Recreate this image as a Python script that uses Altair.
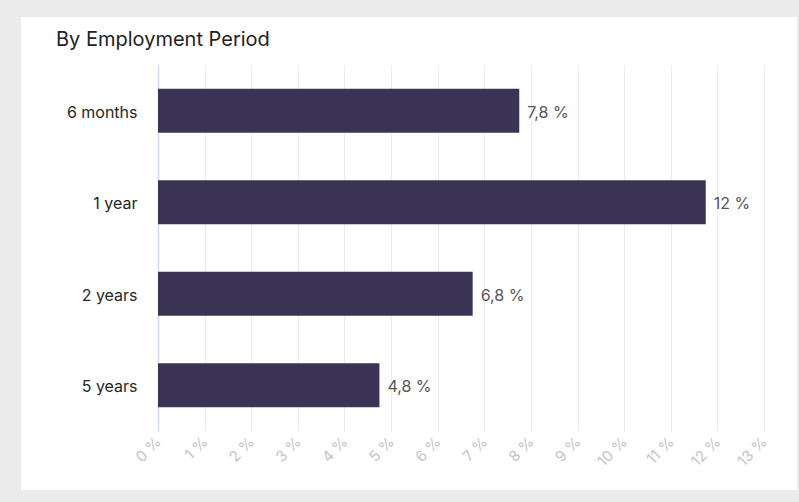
import altair as alt
import pandas as pd

categories = ["6 months", "1 year", "2 years", "5 years"]
values = [7.75, 11.75, 6.75, 4.75]
labels = ["7,8 %", "12 %", "6,8 %", "4,8 %"]
ticks = list(range(0, 14))
title_text = "By Employment Period"

df = pd.DataFrame({"period": categories, "value": values, "label": labels})

FONT = "Inter"
W, H = 606, 366
PL, PT = 158, 65
TW, TH = 799, 502
GRAY = "#ebebeb"

x_enc = alt.X(
    "value:Q",
    scale=alt.Scale(domain=[0, 13], nice=False, zero=True),
    axis=alt.Axis(
        values=ticks,
        labelExpr="datum.value + ' %'",
        labelAngle=315,
        labelAlign="right",
        labelBaseline="middle",
        labelColor="#c4c4c4",
        labelFontSize=15,
        labelFont=FONT,
        labelPadding=8,
        ticks=False,
        domain=False,
        grid=True,
        gridColor="#ececf0",
        gridWidth=1,
        title=None,
    ),
)
y_enc = alt.Y(
    "period:N",
    sort=categories,
    scale=alt.Scale(paddingInner=0.52, paddingOuter=0.26),
    axis=alt.Axis(
        labelColor="#262626",
        labelFontSize=16,
        labelFont=FONT,
        labelPadding=21,
        labelOffset=2,
        ticks=False,
        domain=True,
        domainColor="#d3daf0",
        domainWidth=1.5,
        grid=False,
        title=None,
    ),
)

one = pd.DataFrame({"a": [0]})


def frame(x0, x1, y0, y1):
    return alt.Chart(one).mark_rect(color=GRAY).encode(
        x=alt.value(x0 - PL), x2=alt.value(x1 - PL),
        y=alt.value(y0 - PT), y2=alt.value(y1 - PT),
    )


frames = [
    frame(0, 21, 0, TH),
    frame(0, TW, 0, 17),
    frame(797, TW, 0, TH),
    frame(0, TW, 490, TH),
]

bars = alt.Chart(df).mark_bar(color="#3a3354").encode(x=x_enc, y=y_enc)

text = alt.Chart(df).mark_text(
    align="left", baseline="middle", dx=8, dy=2, fontSize=16, font=FONT, color="#555555"
).encode(x="value:Q", y=alt.Y("period:N", sort=categories), text="label:N")

title = alt.Chart(pd.DataFrame({"t": [title_text]})).mark_text(
    align="left", baseline="alphabetic", fontSize=20, font=FONT, color="#222222"
).encode(x=alt.value(56 - PL), y=alt.value(46 - PT), text="t:N")

chart = alt.layer(bars, text, title, *frames).properties(
    width=W, height=H,
    background="white",
    padding={"left": PL, "top": PT, "right": TW - PL - W, "bottom": TH - PT - H},
    autosize=alt.AutoSizeParams(type="none"),
).configure_view(stroke=None)

chart.save("out.html", embed_options={"renderer": "svg", "actions": False})
